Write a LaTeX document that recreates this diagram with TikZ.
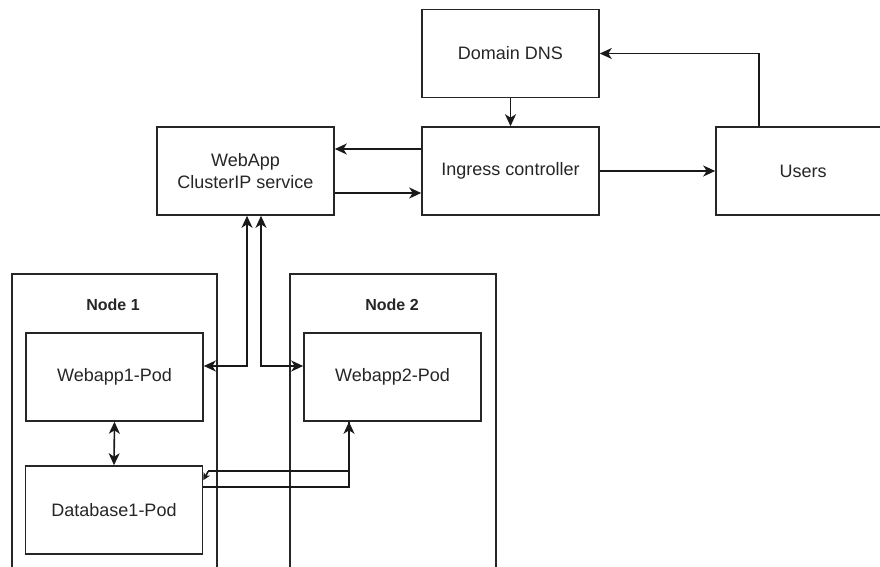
\documentclass[tikz,border=0pt]{standalone}
\usepackage{fontspec}
\setmainfont{Liberation Sans}
\usetikzlibrary{arrows.meta,calc}
\begin{document}
\begin{tikzpicture}[x=1pt,y=-1pt,
  line width=1.6pt,
  box/.style={draw=black!85, fill=white, minimum width=177pt, minimum height=88pt,
    inner sep=0pt, align=center, text=black!85, line width=1.6pt,
    font=\fontsize{18}{22}\selectfont},
  container/.style={draw=black!85, line width=1.6pt},
  clabel/.style={font=\fontsize{16}{19}\selectfont\bfseries, text=black!85},
  tip/.style={-{Stealth[length=12pt,width=11pt,inset=3.5pt]}},
  tips/.style={{Stealth[length=12pt,width=11pt,inset=3.5pt]}-{Stealth[length=12pt,width=11pt,inset=3.5pt]}},
  smalltip/.style={-{Stealth[length=7pt,width=7pt,inset=1.5pt]}},
  conn/.style={draw=black!90, line width=1.6pt}]
\useasboundingbox (0,0) rectangle (880,567);
\clip (0,0) rectangle (880,567);

% worker node containers (they run past the lower edge)
\draw[container] (12,600) |- (217,274) -- (217,600);
\draw[container] (290,600) |- (496,274) -- (496,600);
\node[clabel] (n1label) at (113,305) {Node 1};
\node[clabel] (n2label) at (392,305) {Node 2};

% boxes
\node[box] (dns)     at (510.5,53.5) {Domain DNS};
\node[box] (ingress) at (510.5,171)  {Ingress controller};
\node[box, minimum width=174pt] (users) at (803,171) {Users};
\node[box] (webapp)  at (245.5,171)  {WebApp\\ClusterIP service};
\node[box] (wp1)     at (114.5,377)  {Webapp1-Pod};
\node[box] (wp2)     at (392.5,377)  {Webapp2-Pod};
\node[box] (db)      at (114,510)    {Database1-Pod};

% DNS / ingress / users
\draw[conn,tip] (users.north west) ++(44,0) |- (dns.east);
\draw[conn,tip] (dns.south) -- (ingress.north);
\draw[conn,tip] (ingress.east) -- (users.west);
\draw[conn,tip] ($(ingress.west)+(0,-22)$) -- ($(webapp.east)+(0,-22)$);
\draw[conn,tip] ($(webapp.east)+(0,22)$) -- ($(ingress.west)+(0,22)$);

% service <-> pods
\draw[conn,tips] ($(webapp.south)+(1.5,0)$) |- ($(wp1.east)+(0,-11)$);
\draw[conn,tips] ($(webapp.south)+(15.5,0)$) |- ($(wp2.west)+(0,-11)$);

% pods <-> database
\draw[conn,tips] (wp1.south) -- (db.north);
\draw[conn,tip] ($(db.east)+(0,-23)$) -| ($(wp2.south)+(-43.5,0)$);
\draw[conn] ($(wp2.south)+(-43.5,0)$) |- ($(db.north east)+(5,6)$) coordinate (dbturn);
\draw[conn,smalltip] (dbturn) -- ($(db.north east)+(0,15)$);
\end{tikzpicture}
\end{document}
